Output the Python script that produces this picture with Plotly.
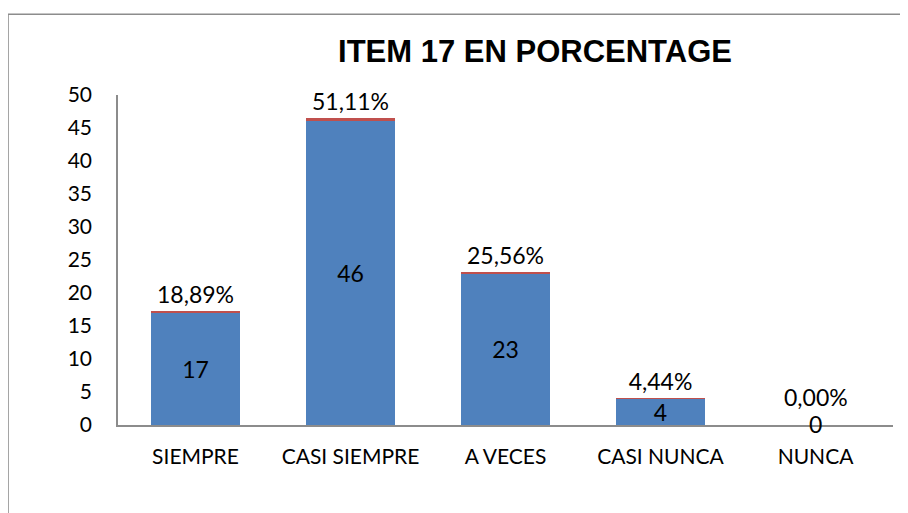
import plotly.graph_objects as go

categories = ["SIEMPRE", "CASI SIEMPRE", "A VECES", "CASI NUNCA", "NUNCA"]
counts = [17, 46, 23, 4, 0]
percent = [0.1889, 0.5111, 0.2556, 0.0444, 0.0]
percent_labels = ["18,89%", "51,11%", "25,56%", "4,44%", "0,00%"]
y_ticks = [0, 5, 10, 15, 20, 25, 30, 35, 40, 45, 50]

FONT = "Lato, Carlito, Calibri, sans-serif"
LABEL_SIZE = 23
TICK_SIZE = 21

# text on bars that have a height; zero bars get annotations instead
count_text = [str(c) if c > 0 else "" for c in counts]
pct_text = [p if c > 0 else "" for p, c in zip(percent_labels, counts)]

fig = go.Figure()
fig.add_trace(go.Bar(
    x=categories, y=counts, marker=dict(color="#4F81BD", line=dict(width=0)),
    text=count_text, textposition="inside", insidetextanchor="middle", textangle=0,
    textfont=dict(family=FONT, size=LABEL_SIZE, color="black"), constraintext="none",
    hoverinfo="skip", name="Frecuencia",
))
fig.add_trace(go.Bar(
    x=categories, y=percent, marker=dict(color="#C0504D", line=dict(width=0)),
    text=pct_text, textposition="outside", cliponaxis=False, textangle=0,
    textfont=dict(family=FONT, size=LABEL_SIZE, color="black"), constraintext="none",
    hoverinfo="skip", name="Porcentaje",
))

annotations = []
for cat, c, p, lab in zip(categories, counts, percent, percent_labels):
    if c == 0:
        annotations.append(dict(x=cat, y=c, text=str(c), showarrow=False,
                                yanchor="middle", yshift=1,
                                font=dict(family=FONT, size=LABEL_SIZE, color="black")))
        annotations.append(dict(x=cat, y=c + p, text=lab, showarrow=False,
                                yanchor="bottom", yshift=12,
                                font=dict(family=FONT, size=LABEL_SIZE, color="black")))

fig.update_layout(
    width=900, height=505,
    barmode="stack", bargap=0.43,
    showlegend=False,
    plot_bgcolor="white", paper_bgcolor="white",
    margin=dict(l=110, r=15, t=87, b=88),
    title=dict(text="<b>ITEM 17 EN PORCENTAGE</b>", x=527 / 900, xanchor="center",
               y=1 - 43 / 505, yanchor="middle",
               font=dict(family="Liberation Sans, Arial, sans-serif", size=31, color="black")),
    annotations=annotations,
    shapes=[dict(type="rect", xref="paper", yref="paper", x0=-0.1419, x1=1.1,
                 y0=-0.6, y1=1.245, line=dict(color="#8C8C8C", width=1.5), layer="below")],
)
fig.update_yaxes(range=[0, 50], tickvals=y_ticks, showgrid=False, zeroline=False,
                 showline=True, linecolor="#8C8C8C", linewidth=1.5, ticks="",
                 ticklabelstandoff=20,
                 tickfont=dict(family=FONT, size=TICK_SIZE, color="black"))
fig.update_xaxes(showgrid=False, showline=True, linecolor="#8C8C8C", linewidth=2,
                 ticks="", ticklabelstandoff=12,
                 tickfont=dict(family=FONT, size=TICK_SIZE, color="black"))

fig.write_html("out.html")
